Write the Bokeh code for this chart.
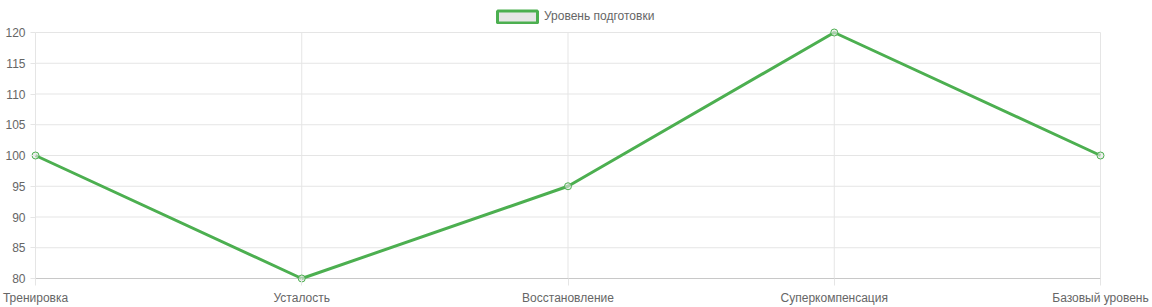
from bokeh.plotting import figure
from bokeh.models import FixedTicker, Range1d, Legend, LegendItem
from bokeh.embed import file_html
from bokeh.resources import INLINE

categories = ["Тренировка", "Усталость", "Восстановление", "Суперкомпенсация", "Базовый уровень"]
values = [100, 80, 95, 120, 100]
y_ticks = [80, 85, 90, 95, 100, 105, 110, 115, 120]
series_name = "Уровень подготовки"

GREEN = "#4caf50"
GRID = "#e5e5e5"
AXIS = "#c8c8c8"
TEXT = "#666666"
FONT = "Liberation Sans"

xs = list(range(len(categories)))
ymin, ymax = min(y_ticks), max(y_ticks)

W, H = 1152, 307
LEFT, RIGHT, TOP, BOTTOM = 35, 1100, 32, 278   # data area in px
PAD = 5
FRAME_LEFT = LEFT - PAD
FRAME_RIGHT = RIGHT + PAD
FRAME_BOTTOM = BOTTOM + PAD

x_ppu = (RIGHT - LEFT) / (len(categories) - 1)
y_ppu = (BOTTOM - TOP) / (ymax - ymin)
x_range = Range1d(0 - PAD / x_ppu, (len(categories) - 1) + PAD / x_ppu)
y_range = Range1d(ymin - PAD / y_ppu, ymax + TOP / y_ppu)

p = figure(width=W, height=H, output_backend="svg", toolbar_location=None,
           x_range=x_range, y_range=y_range,
           min_border_left=FRAME_LEFT, min_border_right=W - FRAME_RIGHT,
           min_border_top=0, min_border_bottom=H - FRAME_BOTTOM)
p.outline_line_color = None
p.background_fill_color = "white"
p.border_fill_color = "white"
p.xgrid.visible = False
p.ygrid.visible = False

# y axis
ya = p.yaxis[0]
ya.ticker = FixedTicker(ticks=y_ticks)
ya.axis_line_color = None
ya.major_tick_line_color = GRID
ya.major_tick_in = PAD
ya.major_tick_out = 0
ya.minor_tick_line_color = None
ya.major_label_standoff = 5
ya.major_label_text_font = FONT
ya.major_label_text_font_size = "12px"
ya.major_label_text_color = TEXT

# x axis
xa = p.xaxis[0]
xa.ticker = FixedTicker(ticks=xs)
xa.major_label_overrides = {i: c for i, c in enumerate(categories)}
xa.axis_line_color = None
xa.major_tick_line_color = GRID
xa.major_tick_in = PAD
xa.major_tick_out = 2
xa.minor_tick_line_color = None
xa.major_label_standoff = 5
xa.major_label_text_font = FONT
xa.major_label_text_font_size = "12px"
xa.major_label_text_color = TEXT

# grid lines limited to the data area
p.segment(x0=[0] * len(y_ticks), x1=[len(categories) - 1] * len(y_ticks),
          y0=y_ticks, y1=y_ticks, line_color=GRID, line_width=1)
p.segment(x0=xs, x1=xs, y0=[ymin] * len(xs), y1=[ymax] * len(xs),
          line_color=GRID, line_width=1)
p.segment(x0=[0], x1=[len(categories) - 1], y0=[ymin], y1=[ymin],
          line_color=AXIS, line_width=1)

p.line(xs, values, line_color=GREEN, line_width=3)
p.scatter(xs, values, size=7, line_color=GREEN, fill_color="#e6e6e6", fill_alpha=0.6, line_width=1)

# legend swatch renderer (no visible geometry in the plot)
nan = float("nan")
dummy = p.quad(left=[nan], right=[nan], top=[nan], bottom=[nan], fill_color="#e6e6e6",
               line_color=GREEN, line_width=3)
legend = Legend(items=[LegendItem(label=series_name, renderers=[dummy], index=0)],
                location=(497 - 5 - FRAME_LEFT, FRAME_BOTTOM - 23.5), orientation="horizontal",
                glyph_width=50, glyph_height=15, label_standoff=2, padding=0, margin=0,
                spacing=0, border_line_alpha=0, background_fill_alpha=0,
                label_text_font=FONT, label_text_font_size="12px",
                label_text_color=TEXT, label_height=12)
p.add_layout(legend, "center")

open("out.html", "w").write(file_html(p, INLINE))
